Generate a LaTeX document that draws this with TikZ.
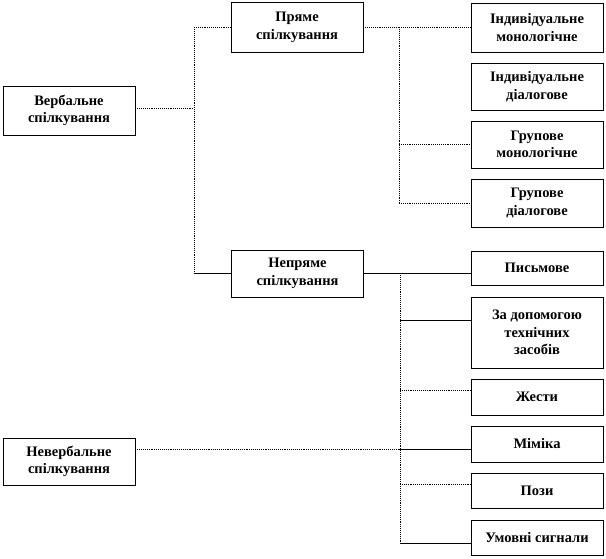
\documentclass[tikz,border=0pt]{standalone}
\usepackage{fontspec}
\setmainfont{Liberation Serif}
\begin{document}
\begin{tikzpicture}[x=1pt, y=-1pt,
  box/.style={draw, line width=0.7pt, align=center, minimum width=132pt, inner sep=2pt,
    font=\bfseries\fontsize{14.5}{17.5}\selectfont},
  dot/.style={densely dotted, line width=0.9pt},
  sol/.style={line width=0.9pt}]
  \useasboundingbox (0,0) rectangle (606,559);
  \node[box, minimum height=49pt] (Vb) at (69,110.5) {Вербальне\\спілкування};
  \node[box, minimum height=47pt] (Nv) at (69,461.5) {Невербальне\\спілкування};
  \node[box, minimum height=50pt] (Pr) at (297,27.5) {Пряме\\спілкування};
  \node[box, minimum height=47pt] (Np) at (297.5,273.5) {Непряме\\спілкування};

  \node[box, minimum height=49pt] (I1) at (537,27.5) {Індивідуальне\\монологічне};
  \node[box, minimum height=47pt] (I2) at (537,86.5) {Індивідуальне\\діалогове};
  \node[box, minimum height=47pt] (I3) at (537,144.5) {Групове\\монологічне};
  \node[box, minimum height=48pt] (I4) at (537,203) {Групове\\діалогове};

  \node[box, minimum height=34pt] (Z1) at (537,268) {Письмове};
  \node[box, minimum height=71pt] (Z2) at (537,332.5) {За допомогою\\технічних\\засобів};
  \node[box, minimum height=36pt] (Z3) at (537,397) {Жести};
  \node[box, minimum height=36pt] (Z4) at (537,444) {Міміка};
  \node[box, minimum height=35pt] (Z5) at (537,490.5) {Пози};
  \node[box, minimum height=35pt] (Z6) at (537,537.5) {Умовні сигнали};

  % buses
  \coordinate (B1) at (194,0);
  \coordinate (B2) at (399,0);
  \coordinate (B3) at (400,0);
  \coordinate (vb) at ([yshift=2.5pt]Vb.east);
  \coordinate (nv) at ([yshift=12.5pt]Nv.east);
  \coordinate (z2) at ([yshift=12.5pt]Z2.west);
  \coordinate (z3) at ([yshift=7pt]Z3.west);
  \coordinate (z5) at ([yshift=6.5pt]Z5.west);
  \coordinate (z6) at ([yshift=-5.5pt]Z6.west);

  \draw[dot] (vb) -- (vb -| B1);
  \draw[dot] (Pr.west -| B1) -- (Np.west -| B1);
  \draw[dot] (Pr.west -| B1) -- (Pr.west);
  \draw[sol] (Np.west -| B1) -- (Np.west);

  \draw[dot] (Pr.east) -- (I1.west);
  \draw[dot] (Pr.east -| B2) -- (I4.west -| B2);
  \draw[dot] (I3.west -| B2) -- (I3.west);
  \draw[dot] (I4.west -| B2) -- (I4.west);

  \draw[sol] (Np.east) -- (Np.east -| Z1.west);
  \draw[dot] (Np.east -| B3) -- (z6 -| B3);
  \draw[sol] (z2 -| B3) -- (z2);
  \draw[dot] (z3 -| B3) -- (z3);
  \draw[dot] (nv) -- (nv -| B3);
  \draw[sol] (nv -| B3) -- (Z4.west |- nv);
  \draw[dot] (z5 -| B3) -- (z5);
  \draw[sol] (z6 -| B3) -- (z6);
\end{tikzpicture}
\end{document}
